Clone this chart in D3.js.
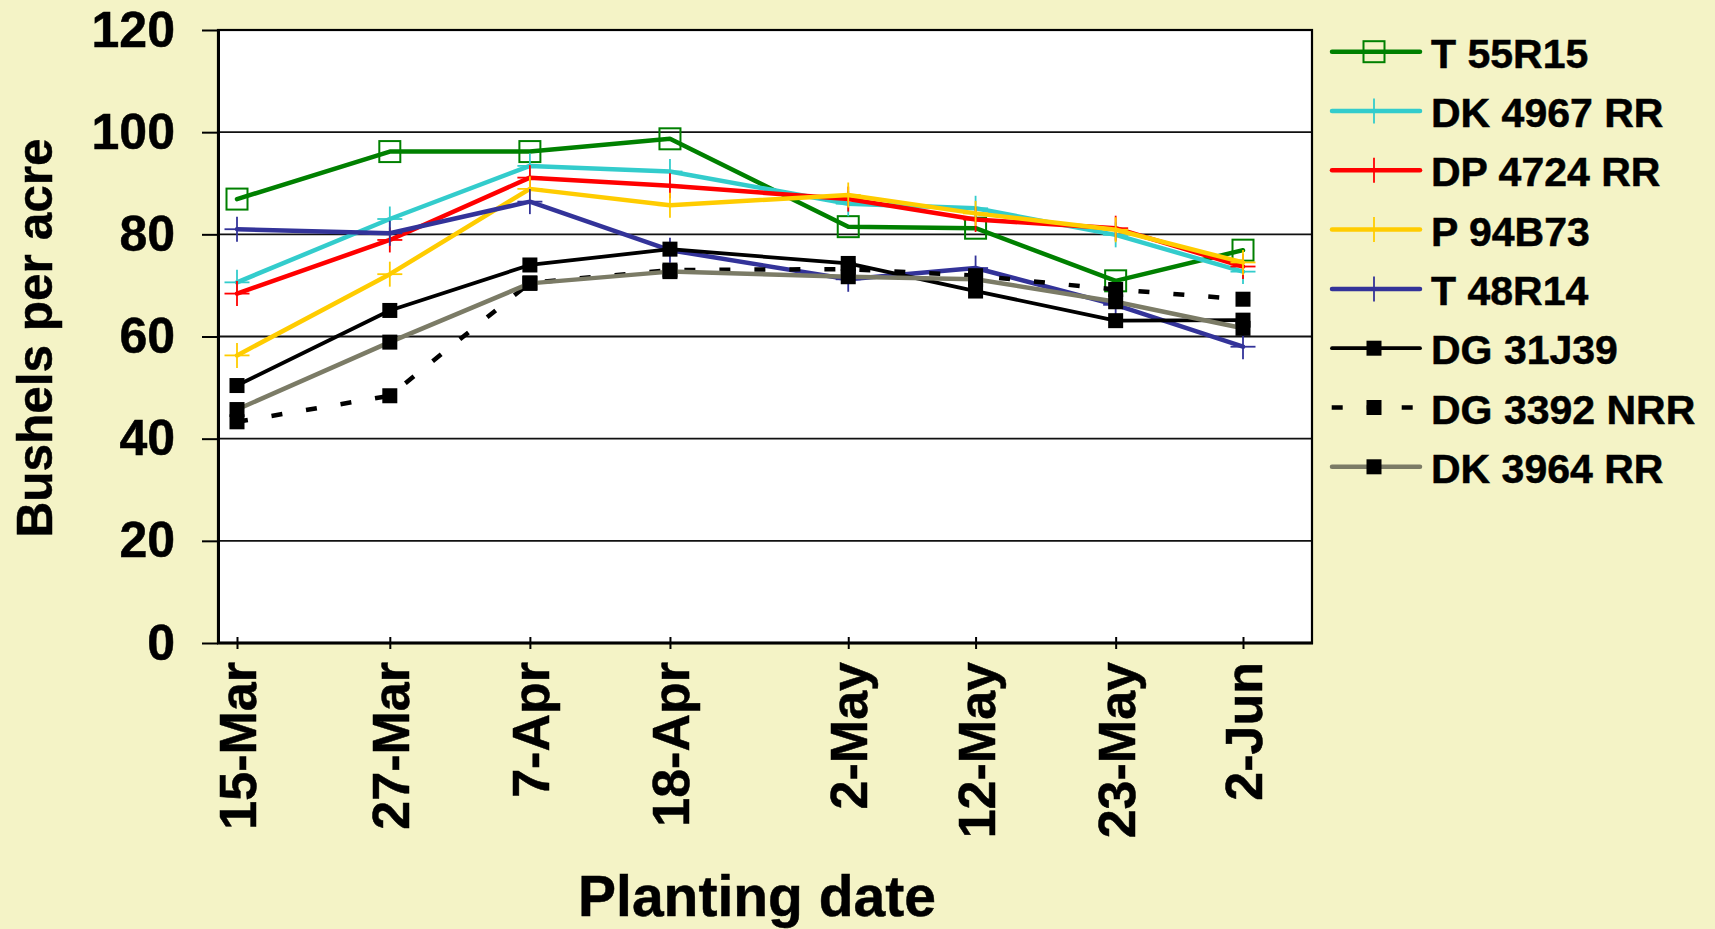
<!DOCTYPE html>
<html>
<head>
<meta charset="utf-8">
<script src="https://cdn.jsdelivr.net/npm/d3@7"></script>
<style>
  html, body { margin: 0; padding: 0; background: #f4f3c6; }
  svg { display: block; }
  text { font-family: "Liberation Sans", Arial, sans-serif; font-weight: bold; fill: #000; stroke: #000; stroke-width: 0.5px; }
</style>
</head>
<body>
<svg id="chart" width="1715" height="929"></svg>
<script>
// ---------------- data ----------------
const dates = ["15-Mar", "27-Mar", "7-Apr", "18-Apr", "2-May", "12-May", "23-May", "2-Jun"];
const seriesNames = ["T 55R15", "DK 4967 RR", "DP 4724 RR", "P 94B73", "T 48R14", "DG 31J39", "DG 3392 NRR", "DK 3964 RR"];
const t55r15   = [86.9, 96.2, 96.2, 98.7, 81.5, 81.2, 70.9, 76.9];
const dk4967rr = [70.6, 83.0, 93.4, 92.3, 86.0, 85.1, 79.9, 72.7];
const dp4724rr = [68.4, 78.9, 91.1, 89.5, 86.9, 82.9, 81.2, 73.7];
const p94b73   = [56.3, 72.2, 88.9, 85.7, 87.7, 84.1, 80.9, 74.5];
const t48r14   = [81.0, 80.2, 86.4, 76.9, 71.2, 73.4, 66.2, 58.0];
const dg31j39  = [50.4, 65.1, 74.0, 77.1, 74.3, 68.9, 63.1, 63.2];
const dg3392nrr= [43.3, 48.4, 70.5, 73.0, 73.2, 71.9, 69.2, 67.3];
const dk3964rr = [45.7, 58.9, 70.4, 72.7, 71.7, 71.2, 66.8, 61.6];
const yTicks = [0, 20, 40, 60, 80, 100, 120];
const yAxisTitle = "Bushels per acre";
const xAxisTitle = "Planting date";

// ---------------- styles (separate from data) ----------------
const styles = [
  { color: "#008000", width: 4.5, marker: "openSquare", dash: null },
  { color: "#33CCCC", width: 4.5, marker: "plus", dash: null },
  { color: "#FF0000", width: 4.5, marker: "plus", dash: null },
  { color: "#FFCC00", width: 4.5, marker: "plus", dash: null },
  { color: "#333399", width: 4.5, marker: "plus", dash: null },
  { color: "#000000", width: 3.8, marker: "square", dash: null },
  { color: "#000000", width: 4.5, marker: "square", dash: "11 24" },
  { color: "#7b7b66", width: 4.5, marker: "square", dash: null }
];
const seriesValues = [t55r15, dk4967rr, dp4724rr, p94b73, t48r14, dg31j39, dg3392nrr, dk3964rr];

// ---------------- setup ----------------
const parse = d3.utcParse("%d-%b-%Y");
const fmt = d3.utcFormat("%-d-%b");
const dateObjs = dates.map(d => parse(d + "-2004"));

const svg = d3.select("#chart");
const P = { left: 218, right: 1312, top: 30, bottom: 643 };

const x = d3.scaleUtc().domain([dateObjs[0], dateObjs[dateObjs.length - 1]]).range([237, 1243]);
const y = d3.scaleLinear().domain([0, 120]).range([P.bottom, P.top]);

// plot area
svg.append("rect")
  .attr("x", P.left).attr("y", P.top)
  .attr("width", P.right - P.left).attr("height", P.bottom - P.top)
  .attr("fill", "#ffffff");

// gridlines
svg.append("g").selectAll("line")
  .data(yTicks.filter(v => v > 0 && v < 120))
  .join("line")
  .attr("x1", P.left).attr("x2", P.right)
  .attr("y1", d => y(d)).attr("y2", d => y(d))
  .attr("stroke", "#111").attr("stroke-width", 1.8);

// frame
svg.append("rect")
  .attr("x", P.left).attr("y", P.top)
  .attr("width", P.right - P.left).attr("height", P.bottom - P.top)
  .attr("fill", "none").attr("stroke", "#000").attr("stroke-width", 2.2);

// y axis
const yAxis = svg.append("g")
  .attr("transform", `translate(${P.left},0)`)
  .call(d3.axisLeft(y).tickValues(yTicks).tickSize(16).tickPadding(27).tickSizeOuter(0));
yAxis.select(".domain").attr("stroke", "#000").attr("stroke-width", 3);
yAxis.selectAll(".tick line").attr("stroke", "#000").attr("stroke-width", 2);
yAxis.selectAll(".tick text")
  .attr("font-size", 50).attr("font-weight", "bold")
  .attr("font-family", "'Liberation Sans', Arial, sans-serif").attr("fill", "#000");

// x axis
const xAxis = svg.append("g")
  .attr("transform", `translate(0,${P.bottom})`)
  .call(d3.axisBottom(x).tickValues(dateObjs).tickFormat(fmt).tickSizeOuter(0));
xAxis.select(".domain").remove();
xAxis.append("line")
  .attr("x1", P.left - 1).attr("x2", P.right + 1)
  .attr("y1", 0).attr("y2", 0)
  .attr("stroke", "#000").attr("stroke-width", 3);
xAxis.selectAll(".tick line").attr("y1", -6).attr("y2", 6).attr("stroke", "#000").attr("stroke-width", 2);
xAxis.selectAll(".tick text")
  .attr("transform", "rotate(-90)")
  .attr("x", -19).attr("y", 0).attr("dy", "0.36em")
  .attr("text-anchor", "end")
  .attr("font-size", 52).attr("font-weight", "bold")
  .attr("font-family", "'Liberation Sans', Arial, sans-serif").attr("fill", "#000");

// axis titles
svg.append("text")
  .attr("transform", "translate(52,338) rotate(-90)")
  .attr("text-anchor", "middle")
  .attr("font-size", 49.5)
  .text(yAxisTitle);

svg.append("text")
  .attr("x", 757).attr("y", 916)
  .attr("text-anchor", "middle")
  .attr("font-size", 57)
  .text(xAxisTitle);

// markers
function drawMarker(g, type, color, cx, cy) {
  if (type === "openSquare") {
    g.append("rect").attr("x", cx - 10.5).attr("y", cy - 10.5).attr("width", 21).attr("height", 21)
      .attr("fill", "none").attr("stroke", color).attr("stroke-width", 2);
  } else if (type === "plus") {
    g.append("line").attr("x1", cx - 12.5).attr("x2", cx + 12.5).attr("y1", cy).attr("y2", cy)
      .attr("stroke", color).attr("stroke-width", 1.8);
    g.append("line").attr("x1", cx).attr("x2", cx).attr("y1", cy - 12.5).attr("y2", cy + 12.5)
      .attr("stroke", color).attr("stroke-width", 1.8);
  } else if (type === "square") {
    g.append("rect").attr("x", cx - 7.5).attr("y", cy - 7.5).attr("width", 15).attr("height", 15)
      .attr("fill", "#000");
  }
}

const line = d3.line().x(d => x(d.date)).y(d => y(d.v));

const seriesG = svg.append("g");
seriesValues.forEach((vals, i) => {
  const st = styles[i];
  const pts = vals.map((v, j) => ({ date: dateObjs[j], v }));
  const g = seriesG.append("g");
  g.append("path")
    .datum(pts)
    .attr("d", line)
    .attr("fill", "none")
    .attr("stroke", st.color)
    .attr("stroke-width", st.width)
    .attr("stroke-linejoin", "round")
    .attr("stroke-linecap", st.dash ? "butt" : "round")
    .attr("stroke-dasharray", st.dash);
  pts.forEach(p => drawMarker(g, st.marker, st.color, x(p.date), y(p.v)));
});

// legend
const legend = svg.append("g");
seriesNames.forEach((name, i) => {
  const st = styles[i];
  const ry = 51.7 + i * 59.3;
  const g = legend.append("g");
  g.append("line")
    .attr("x1", st.dash ? 1331.7 : 1332).attr("x2", 1420)
    .attr("y1", ry).attr("y2", ry)
    .attr("stroke", st.color).attr("stroke-width", st.width)
    .attr("stroke-linecap", st.dash ? "butt" : "round")
    .attr("stroke-dasharray", st.dash);
  drawMarker(g, st.marker, st.color, 1374, ry);
  g.append("text")
    .attr("x", 1431).attr("y", ry + 16)
    .attr("font-size", 41)
    .text(name);
});
</script>
</body>
</html>
